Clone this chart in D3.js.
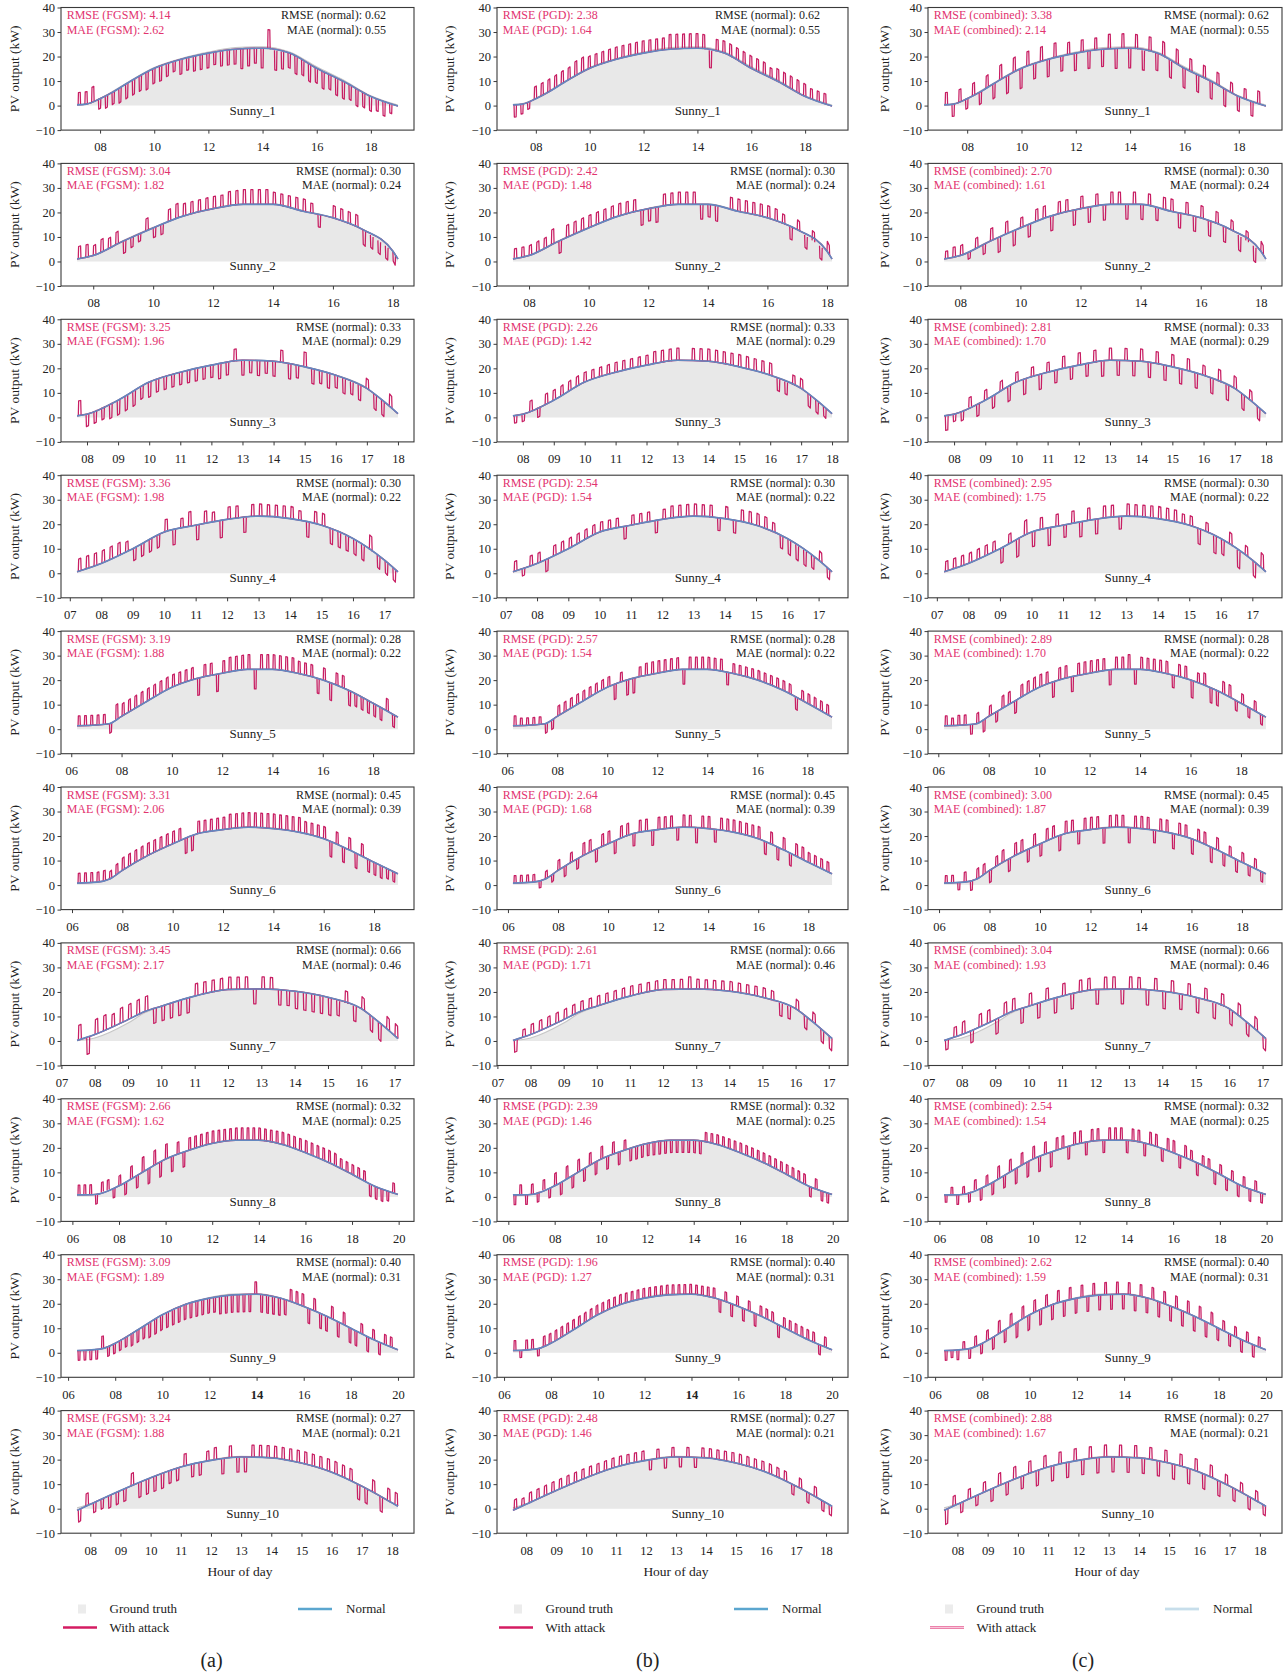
<!DOCTYPE html>
<html>
<head>
<meta charset="utf-8">
<script src="https://cdn.jsdelivr.net/npm/d3@7"></script>
<style>
  body { margin: 0; background: #fff; }
  svg text { font-family: "Liberation Serif", "DejaVu Serif", serif; }
</style>
</head>
<body>
<svg id="chart" width="1286" height="1676"></svg>
<script>
// ---- days (rows) ----
const dayNames = ["Sunny_1","Sunny_2","Sunny_3","Sunny_4","Sunny_5","Sunny_6","Sunny_7","Sunny_8","Sunny_9","Sunny_10"];

// knot hours for each day (first = sunrise sample, last = final sample)
const dayHours = [
  [7.15,7.5,8,8.5,9,10,11,12,13,14,15,16,17,18,19.0],
  [7.46,8,9,10,11,12,13,14,15,16,17,18,18.17],
  [7.68,8,9,10,11,12,13,14,15,16,17,17.5,18.0],
  [7.23,8,9,10,11,12,13,14,15,16,17,17.43],
  [6.23,7,7.5,8,9,10,11,12,13,14,15,16,17,18,18.99],
  [6.2,7,7.5,8,9,10,11,12,13,14,15,16,17,18,18.95],
  [7.47,8,9,9.5,10,11,12,13,14,15,16,16.5,17,17.1],
  [6.2,7,8,9,10,11,12,13,14,15,16,17,18,19,19.97],
  [6.38,7,7.5,8,9,10,11,12,13,14,15,16,17,18,19,20.0],
  [7.56,8,9,10,11,12,13,14,15,16,17,18,18.2]
];

// measured PV output (kW) at the knot hours
const truthKw = [
  [0.5,0.8,3,6,9.3,15.5,19.2,21.8,23.6,24,21.8,15.8,10.3,4,0.2],
  [1.1,2.6,8.5,13.9,18.6,21.7,23.5,23.5,20.7,17.9,13.1,4.4,1.1],
  [0.7,1.4,7.1,14.5,18.5,21.4,23.4,23,20.7,17.3,12,7,1.5],
  [0.7,4.1,10.1,16.8,19.7,22.1,23.4,22.4,19.7,14.3,5.5,0.7],
  [1.4,1.7,2.2,5.3,11.3,17.1,20.8,22.9,24.5,24.5,22.9,20.2,16.1,10.7,4.9],
  [0.8,1.2,2.5,6,12,16.9,21,22.7,23.8,23.2,21.7,19,14.5,9.4,4.6],
  [0.1,1.2,7.3,11.5,14.2,18.3,21.2,21.4,20.4,17.9,13.3,8,2.2,1],
  [0.8,1,4.5,10,15.5,19.1,21.9,23.3,23.3,21.5,18.1,14.1,9.3,4.3,1],
  [0.9,1.2,1.8,3.9,9.7,15.6,19.9,22.5,23.9,24.1,22.4,19,14.9,10.1,5.3,1.2],
  [0.3,2,7.4,12.6,17,19.9,21.3,20.9,18.7,15,9.3,2.5,1]
];

// forecast without attack (kW) at the knot hours
const normalKw = [
  [0.3,0.6,2.8,5.7,9.1,15.2,18.9,21.4,23,23.4,21.4,15.2,9.8,3.7,-0.2],
  [1,2.4,8.3,13.7,18.5,21.5,23.3,23.3,20.5,17.8,13,4.2,1],
  [0.6,1.3,7,14.4,18.4,21.3,23.3,22.9,20.6,17.2,11.8,7,1.5],
  [0.6,4,10,16.8,19.6,22,23.3,22.3,19.6,14.2,5.4,0.6],
  [1.4,1.7,2.2,5.2,11.3,17.1,20.7,22.8,24.4,24.4,22.8,20.1,16,10.6,4.9],
  [0.8,1.2,2.5,6,12,16.8,21,22.6,23.6,23,21.6,18.9,14.4,9.3,4.6],
  [0.2,2.6,8.7,12,14.2,18.3,21,21.2,20.3,17.8,13.2,8,2.2,1],
  [0.8,1,4.5,10,15.4,19,21.8,23.1,23.1,21.4,18,14,9.2,4.2,1],
  [0.9,1.2,1.8,3.9,9.6,15.5,19.8,22.3,23.6,23.9,22.3,18.9,14.8,10,5.2,1.2],
  [-0.7,1.8,7.4,12.6,17,19.7,21.1,20.7,18.6,14.9,9.2,2.4,1]
];

// x-axis tick hours for each day
const xTicks = [
  [8,10,12,14,16,18],
  [8,10,12,14,16,18],
  [8,9,10,11,12,13,14,15,16,17,18],
  [7,8,9,10,11,12,13,14,15,16,17],
  [6,8,10,12,14,16,18],
  [6,8,10,12,14,16,18],
  [7,8,9,10,11,12,13,14,15,16,17],
  [6,8,10,12,14,16,18,20],
  [6,8,10,12,14,16,18,20],
  [8,9,10,11,12,13,14,15,16,17,18]
];
const yTicks = [-10, 0, 10, 20, 30, 40];

// ---- attack offsets (kW) on a quarter-hour grid from each day's first sample ----
const attackStep = 0.25;

const fgsmAttack = [
  [5,5,6,-4,-5,-5,-6,-6,-6,-6,-7,-6,-6,-5,-4,-6,-5,-6,-6,-6,-5,-6,-6,-6,-8,-7,-6,-8,8,-8,-7,-6,-7,-6,-7,-6,-7,-6,-7,-7,-6,-7,-6,-6,-5,-6,-4,-6],
  [5,5,4,5,4,5,-5,-4,-3,5,-4,-4,5,6,5,5,5,5,5,5,6,6,6,6,6,6,5,5,5,5,5,4,-5,0,5,5,5,5,-6,-5,-5,-5,-4],
  [6,-5,-5,-5,-6,-6,-6,-6,-5,-6,-5,-5,-5,-5,-5,-5,-5,-5,-6,-5,5,-6,-5,-6,-5,-6,5,-6,-5,6,-6,-5,-6,-5,-6,-5,-6,4,-6,-6,5],
  [5,5,5,5,5,5,4,-5,-5,-5,-5,5,-6,4,6,-6,5,4,-7,5,5,-6,5,5,5,5,5,5,4,-6,5,5,-6,-6,-6,-6,-6,6,-5,-5,-5],
  [4,4,4,4,4,-4,6,5,5,5,5,5,5,5,5,5,5,5,5,-7,5,5,-7,5,6,6,6,6,-8,6,6,6,6,6,6,5,5,5,-6,5,-7,5,5,-6,-5,-5,-5,-5,-5,5,-5],
  [4,4,4,4,4,3,4,5,5,5,5,5,5,5,5,5,5,-6,-6,5,5,5,5,5,6,6,6,6,6,6,6,6,6,6,6,6,5,5,5,5,-6,5,-6,5,-6,5,-5,-5,-5,-4,-4],
  [6,-7,6,6,5,6,6,6,6,-6,-6,-6,-6,-6,5,5,5,5,5,5,5,-6,5,5,-6,-6,-7,-7,-7,-7,-7,-6,5,-6,5,-6,-7,5,5],
  [4,4,4,-4,4,4,-4,4,-5,5,-5,6,-6,6,-6,6,-6,5,-6,5,5,5,5,5,5,5,5,5,5,5,5,5,5,5,5,5,5,5,5,5,5,5,5,5,5,4,4,4,4,4,-5,-5,-5,-4,4],
  [-4,-4,-4,-4,5,-4,-4,-4,-4,-5,-5,-5,-6,-6,-6,-6,-6,-6,-6,-6,-6,-6,-6,-6,-7,-7,-7,-7,-7,-7,5,-7,-7,-7,-7,-6,5,5,5,-6,5,-6,-6,5,-6,5,-6,-6,4,-6,4,-5,4,4,-5],
  [-5,5,-4,-4,-5,-5,-5,5,-6,-6,-6,-6,-5,-5,5,-5,-5,4,5,-6,5,-6,-6,5,5,5,5,5,5,5,5,5,5,5,5,5,5,-6,-6,5,-6,5,5]
];

const pgdAttack = [
  [-5,-4,-3,5,5,5,5,5,5,6,6,5,5,5,5,5,5,5,5,5,5,5,5,6,6,6,6,6,6,-7,5,5,5,5,5,5,5,5,4,5,5,5,5,5,4,4,4,3],
  [4,4,4,4,4,6,-5,5,5,5,5,5,5,5,5,5,5,-6,-5,-6,5,5,5,5,5,-6,-5,-6,0,5,5,5,5,5,5,5,4,-5,4,-5,4,-5,4],
  [-3,-3,4,-4,4,4,4,4,4,4,4,4,4,4,4,4,4,4,5,5,5,5,0,5,5,5,5,5,5,5,5,5,5,5,-5,-5,4,4,-5,-5,-4],
  [4,-3,4,4,-5,4,4,4,4,4,4,4,4,4,-5,4,4,4,-5,4,5,5,5,5,5,5,-5,5,-5,5,5,5,5,4,-5,-6,-6,-6,-5,4,-4],
  [4,3,3,3,3,-4,-4,4,4,4,4,4,4,4,4,4,-6,4,-6,-6,4,5,5,5,5,5,5,-6,5,5,5,5,5,5,-5,4,4,4,4,4,4,4,4,4,4,-5,4,4,4,4,4],
  [3,3,3,3,-3,3,-3,4,-4,4,-4,5,5,-5,5,5,-5,5,5,-5,5,5,-6,5,5,5,-5,5,5,-6,5,5,-5,5,5,5,5,5,5,5,-5,5,-5,5,-5,5,5,4,4,4,4],
  [-5,3,4,4,4,4,4,4,4,4,4,4,4,4,4,4,4,4,4,4,4,5,4,4,4,4,4,4,4,4,4,4,-5,-5,4,-5,4,-5,-5],
  [-4,4,-4,4,-4,4,-4,5,-5,5,-5,5,-5,5,-5,5,-5,5,-5,4,-5,-5,-5,-5,-5,-5,-5,-5,-5,-5,-5,-5,-5,4,4,4,4,4,4,4,4,4,4,4,4,4,4,4,4,4,4,-4,4,-4,-4],
  [4,-3,4,4,-3,4,4,4,4,4,4,4,4,4,4,4,4,4,4,4,4,4,4,4,4,4,4,4,4,4,4,4,4,4,4,-5,4,-5,4,-5,4,-5,4,4,4,-5,4,4,4,4,4,4,-4,4,-4],
  [4,3,4,4,4,4,4,4,4,4,4,4,4,4,4,4,4,4,-4,4,-4,4,-4,4,-4,4,4,4,4,4,4,4,4,4,4,4,4,-4,4,-4,4,-4,-4]
];

const combinedAttack = [
  [5,-5,5,-4,5,-5,5,-6,6,-7,6,-8,6,-6,6,-7,6,-6,5,-7,5,-7,5,-7,6,-8,6,-8,6,-8,6,-7,6,-7,6,-8,5,-7,5,-7,5,-7,4,-6,4,-6,5,-6],
  [3,4,4,-3,4,-4,5,-6,5,-6,4,-5,5,5,-6,5,5,-6,5,-6,5,-6,5,5,-6,5,-6,5,-5,5,5,-6,5,-6,5,-6,5,-6,4,-6,4,-6,4],
  [-6,-3,-4,4,-5,4,-5,4,-6,4,-6,4,-6,4,-5,5,-5,5,-5,5,-6,5,-6,5,-6,5,-6,5,-6,5,-6,5,-6,4,-6,5,-6,5,-6,4,-5],
  [4,4,4,4,4,4,4,-6,4,-7,6,-6,5,-7,5,-5,5,-6,5,-6,5,5,-5,5,5,5,5,5,5,5,4,4,-6,4,-7,-6,5,-7,4,-6,6],
  [4,3,4,4,-4,4,-5,4,-4,5,5,-5,5,5,5,5,5,-6,5,5,-6,5,5,5,5,5,-6,5,5,6,-6,5,5,5,5,5,-5,5,5,-7,4,5,-6,-6,5,5,-4,4,-4,4,-4],
  [3,3,-3,4,-4,4,4,-5,4,5,-5,5,5,-5,5,-5,5,5,-6,5,5,-5,5,5,5,-6,5,5,5,-6,5,5,5,-5,5,5,-6,5,5,-6,5,5,-6,5,-5,4,-5,4,-4,4,-4],
  [-4,4,5,-5,5,5,-6,5,5,-6,5,-6,5,-6,5,-6,5,5,-6,5,5,-6,5,5,-6,5,-7,5,-6,5,-6,5,-6,5,-6,5,-5,5,-5],
  [-3,3,-4,3,-4,4,-5,4,-5,5,-5,5,-6,5,-6,5,-6,5,-6,5,5,-5,5,5,-5,5,5,-5,5,5,5,-5,5,5,-5,5,5,-5,5,5,-5,5,4,-5,4,4,-5,4,-5,4,-5,4,-5,4,-4],
  [-4,-3,-4,3,-4,4,-4,4,-5,5,-5,5,-6,5,-6,5,-6,5,-6,5,-6,5,-6,5,-6,5,-6,5,-6,5,-6,5,-6,5,-6,5,-6,5,-6,5,-6,5,-6,5,-6,5,-5,4,-5,4,-5,4,-5,4,-4],
  [-6,4,-4,4,-4,4,-5,5,-5,5,-5,5,-6,5,-6,5,-6,5,-6,5,-6,5,-6,5,-6,5,-6,5,-6,5,-6,5,-6,5,-6,5,-6,4,-5,4,-5,4,-4]
];

// ---- error metrics shown in each panel ----
const methods = ["FGSM", "PGD", "combined"];
const fgsmRmse = [4.14,3.04,3.25,3.36,3.19,3.31,3.45,2.66,3.09,3.24];
const fgsmMae  = [2.62,1.82,1.96,1.98,1.88,2.06,2.17,1.62,1.89,1.88];
const pgdRmse  = [2.38,2.42,2.26,2.54,2.57,2.64,2.61,2.39,1.96,2.48];
const pgdMae   = [1.64,1.48,1.42,1.54,1.54,1.68,1.71,1.46,1.27,1.46];
const combinedRmse = [3.38,2.70,2.81,2.95,2.89,3.00,3.04,2.54,2.62,2.88];
const combinedMae  = [2.14,1.61,1.70,1.75,1.70,1.87,1.93,1.54,1.59,1.67];
const normalRmse = [0.62,0.30,0.33,0.30,0.28,0.45,0.66,0.32,0.40,0.27];
const normalMae  = [0.55,0.24,0.29,0.22,0.22,0.39,0.46,0.25,0.31,0.21];

const panelLabels = ["(a)", "(b)", "(c)"];
const legendLabels = ["Ground truth", "Normal", "With attack"];

const attackSets = [fgsmAttack, pgdAttack, combinedAttack];
const rmseSets = [fgsmRmse, pgdRmse, combinedRmse];
const maeSets = [fgsmMae, pgdMae, combinedMae];

// ---- layout & style ----
const colLeft = [61, 497, 928];
const colWidth = [353, 351, 354];
const rowTop = 7.5, rowPitch = 155.9, plotH = 122.6;
const nameFrac = [0.543, 0.572, 0.564];
const yTitleGap = [47, 48, 44];
const captionDx = [150.5, 150.7, 155];
const C = {
  attack: "#c81e63", normal: "#6388c0", truthFill: "#e8e8e8", truthEdge: "#c6c6c6",
  note: "#e2336f", ink: "#222", frame: "#3a3a3a"
};
const FONT = '"Liberation Serif", "DejaVu Serif", serif';

const svg = d3.select("#chart");
const y = d3.scaleLinear().domain([-10, 40]).range([plotH, 0]);
const fmtHour = d3.format("02d");

function baseAt(hours, vals, t) {
  const i = Math.max(1, Math.min(hours.length - 1, d3.bisectRight(hours, t)));
  const t0 = hours[i - 1], t1 = hours[i];
  return vals[i - 1] + (vals[i] - vals[i - 1]) * (t - t0) / (t1 - t0);
}

for (let r = 0; r < dayNames.length; r++) {
  for (let c = 0; c < 3; c++) {
    const hours = dayHours[r];
    const lo = hours[0], hi = hours[hours.length - 1], pad = (hi - lo) * 0.05;
    const w = colWidth[c];
    const x = d3.scaleLinear().domain([lo - pad, hi + pad]).range([0, w]);
    const g = svg.append("g")
      .attr("transform", `translate(${colLeft[c]},${rowTop + r * rowPitch})`);

    const clipId = `clip-${r}-${c}`;
    g.append("clipPath").attr("id", clipId)
      .append("rect").attr("width", w).attr("height", plotH);
    const plot = g.append("g").attr("clip-path", `url(#${clipId})`);

    const truthPts = hours.map((h, i) => [h, truthKw[r][i]]);
    const normalPts = hours.map((h, i) => [h, normalKw[r][i]]);

    // ground truth
    plot.append("path").datum(truthPts)
      .attr("fill", C.truthFill)
      .attr("d", d3.area().x(d => x(d[0])).y0(y(0)).y1(d => y(d[1])).curve(d3.curveMonotoneX));
    plot.append("path").datum(truthPts)
      .attr("fill", "none").attr("stroke", C.truthEdge).attr("stroke-width", 1.2)
      .attr("d", d3.line().x(d => x(d[0])).y(d => y(d[1])).curve(d3.curveMonotoneX));

    // forecast under attack: baseline plus rectangular excursions
    const lineGen = d3.line().x(d => x(d[0])).y(d => y(d[1])).curve(d3.curveMonotoneX);
    plot.append("path").datum(normalPts)
      .attr("fill", "none").attr("stroke", C.attack).attr("stroke-width", 1.3)
      .attr("d", lineGen);

    const offsets = attackSets[c][r];
    const pulses = [];
    offsets.forEach((dv, i) => {
      if (!dv) return;
      const t0 = lo + attackStep * i + 0.04, t1 = t0 + 0.09;
      if (t1 > hi) return;
      const b0 = baseAt(hours, normalKw[r], t0), b1 = baseAt(hours, normalKw[r], t1);
      pulses.push([[t0, b0], [t0 + 0.012, b0 + dv], [t1 - 0.012, b1 + dv], [t1, b1]]);
    });
    plot.append("g").selectAll("path").data(pulses).join("path")
      .attr("fill", "none").attr("stroke", C.attack).attr("stroke-width", 1.25)
      .attr("stroke-linejoin", "round")
      .attr("d", d3.line().x(d => x(d[0])).y(d => y(d[1])));

    // normal forecast
    plot.append("path").datum(normalPts)
      .attr("fill", "none").attr("stroke", C.normal).attr("stroke-width", 1.6)
      .attr("d", lineGen);

    // frame
    g.append("rect").attr("width", w).attr("height", plotH)
      .attr("fill", "none").attr("stroke", C.frame).attr("stroke-width", 1.1);

    // axes
    const gx = g.append("g").attr("transform", `translate(0,${plotH})`)
      .call(d3.axisBottom(x).tickValues(xTicks[r]).tickFormat(fmtHour).tickSize(3.5).tickPadding(9));
    gx.select(".domain").remove();
    gx.attr("font-family", FONT).attr("font-size", 12.5);
    gx.selectAll(".tick line").attr("stroke", C.frame).attr("stroke-width", 1);
    gx.selectAll(".tick text").attr("fill", C.ink)
      .attr("font-weight", d => (r === 8 && c < 2 && d === 14) ? "bold" : null);

    const gy = g.append("g")
      .call(d3.axisLeft(y).tickValues(yTicks).tickSize(3.5).tickPadding(2.5));
    gy.select(".domain").remove();
    gy.attr("font-family", FONT).attr("font-size", 12.5);
    gy.selectAll(".tick line").attr("stroke", C.frame).attr("stroke-width", 1);
    gy.selectAll(".tick text").attr("fill", C.ink);

    g.append("text")
      .attr("transform", `translate(${-yTitleGap[c]},${plotH / 2}) rotate(-90)`)
      .attr("text-anchor", "middle").attr("dy", "0.35em")
      .attr("font-size", 13.5).attr("fill", C.ink)
      .text("PV output (kW)");

    // metrics
    const m = methods[c];
    g.append("text").attr("x", 5.7).attr("y", 11.5).attr("font-size", 12).attr("fill", C.note)
      .text(`RMSE (${m}): ${rmseSets[c][r].toFixed(2)}`);
    g.append("text").attr("x", 5.7).attr("y", 26).attr("font-size", 12).attr("fill", C.note)
      .text(`MAE (${m}): ${maeSets[c][r].toFixed(2)}`);
    const inset = (r === 0 && c < 2) ? 28 : 13;
    g.append("text").attr("x", w - inset).attr("y", 11.5).attr("text-anchor", "end")
      .attr("font-size", 12).attr("fill", C.ink)
      .text(`RMSE (normal): ${normalRmse[r].toFixed(2)}`);
    g.append("text").attr("x", w - inset).attr("y", 26).attr("text-anchor", "end")
      .attr("font-size", 12).attr("fill", C.ink)
      .text(`MAE (normal): ${normalMae[r].toFixed(2)}`);

    // day name
    g.append("text").attr("x", nameFrac[c] * w).attr("y", y(-1.8)).attr("dy", "0.35em")
      .attr("text-anchor", "middle").attr("font-size", 13).attr("fill", C.ink)
      .text(dayNames[r]);

    if (r === dayNames.length - 1) {
      g.append("text").attr("x", 179).attr("y", plotH + 43).attr("text-anchor", "middle")
        .attr("font-size", 13.5).attr("fill", C.ink).text("Hour of day");
    }
  }
}

// ---- legends and panel captions ----
for (let c = 0; c < 3; c++) {
  const L = svg.append("g").attr("transform", `translate(${colLeft[c]},0)`);
  const soft = c === 2;
  L.append("rect").attr("x", 17).attr("y", 1604.5).attr("width", 8).attr("height", 9).attr("fill", "#ececec");
  L.append("text").attr("x", 48.5).attr("y", 1613).attr("font-size", 13).attr("fill", C.ink).text(legendLabels[0]);

  L.append("line").attr("x1", 237).attr("x2", 271).attr("y1", 1609).attr("y2", 1609)
    .attr("stroke", soft ? "#a8cde0" : "#5ba6cf").attr("stroke-width", 2.6);
  if (soft) L.append("line").attr("x1", 237).attr("x2", 271).attr("y1", 1609).attr("y2", 1609)
    .attr("stroke", "#ffffff").attr("stroke-width", 0.9).attr("opacity", 0.8);
  L.append("text").attr("x", 285).attr("y", 1613).attr("font-size", 13).attr("fill", C.ink).text(legendLabels[1]);

  L.append("line").attr("x1", 2).attr("x2", 36).attr("y1", 1627.5).attr("y2", 1627.5)
    .attr("stroke", soft ? "#e4598f" : "#d41c62").attr("stroke-width", 2.6);
  if (soft) L.append("line").attr("x1", 2).attr("x2", 36).attr("y1", 1627.5).attr("y2", 1627.5)
    .attr("stroke", "#fbd3e2").attr("stroke-width", 0.9);
  L.append("text").attr("x", 48.5).attr("y", 1631.5).attr("font-size", 13).attr("fill", C.ink).text(legendLabels[2]);

  L.append("text").attr("x", captionDx[c]).attr("y", 1667).attr("text-anchor", "middle")
    .attr("font-size", 20).attr("fill", C.ink).text(panelLabels[c]);
}
</script>
</body>
</html>
